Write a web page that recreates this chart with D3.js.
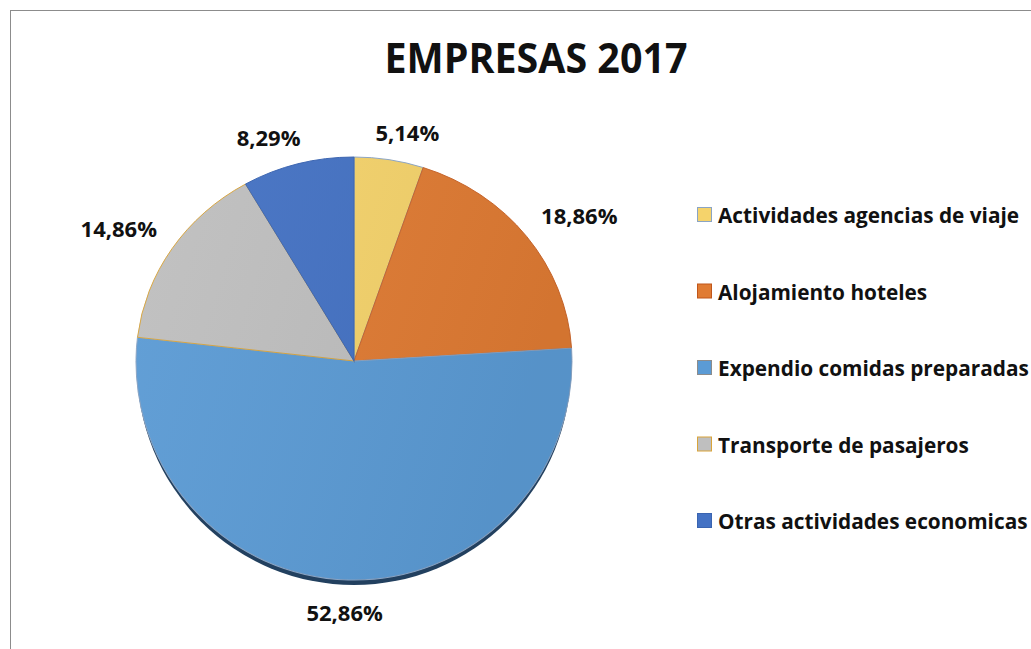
<!DOCTYPE html>
<html>
<head>
<meta charset="utf-8">
<script src="https://cdn.jsdelivr.net/npm/d3@7"></script>
<style>
  body { margin: 0; background: #fff; }
  text { font-family: "Open Sans", sans-serif; font-weight: bold; fill: #111; }
</style>
</head>
<body>
<script>
var categories = ["Actividades agencias de viaje", "Alojamiento hoteles", "Expendio comidas preparadas",
                  "Transporte de pasajeros", "Otras actividades economicas"];
var values = [5.14, 18.86, 52.86, 14.86, 8.29];
var labels = ["5,14%", "18,86%", "52,86%", "14,86%", "8,29%"];
var colors = ["#F5D36B", "#E07B33", "#5B9BD5", "#BFBFBF", "#4472C4"];
var edges = ["#8aa4c4", "#c8652a", "#8aa4c4", "#d9a43a", "#3a64b0"];

var width = 1031, height = 649;
var cx = 354, cy = 361, r = 218;
var topScale = 204 / 218, botScale = 219 / 218;

var svg = d3.select("body").append("svg")
    .attr("width", width)
    .attr("height", height);

var defs = svg.append("defs");
defs.append("clipPath").attr("id", "topHalf")
  .append("rect").attr("x", -300).attr("y", -300).attr("width", 600).attr("height", 300);
defs.append("clipPath").attr("id", "botHalf")
  .append("rect").attr("x", -300).attr("y", 0).attr("width", 600).attr("height", 300);
var grad = defs.append("linearGradient").attr("id", "shade")
    .attr("x1", "0%").attr("y1", "0%").attr("x2", "100%").attr("y2", "30%");
grad.append("stop").attr("offset", "0%").attr("stop-color", "#fff").attr("stop-opacity", 0.05);
grad.append("stop").attr("offset", "100%").attr("stop-color", "#000").attr("stop-opacity", 0.06);

// chart area border
svg.append("rect")
    .attr("x", 10.5).attr("y", 10.5)
    .attr("width", width + 20).attr("height", height + 20)
    .attr("fill", "none").attr("stroke", "#8c8c8c").attr("stroke-width", 1);

// title
svg.append("text")
    .attr("x", 536).attr("y", 73)
    .attr("text-anchor", "middle")
    .attr("font-size", 41)
    .attr("textLength", 303)
    .attr("lengthAdjust", "spacingAndGlyphs")
    .text("EMPRESAS 2017");

var pie = d3.pie().sort(null).value(function(d) { return d; });
var arcs = pie(values);
var arc = d3.arc().innerRadius(0).outerRadius(r);

// bottom shadow (3d edge)
svg.append("g")
    .attr("transform", "translate(" + cx + "," + (cy + 6) + ") scale(1," + botScale + ")")
    .attr("clip-path", "url(#botHalf)")
  .append("circle")
    .attr("r", r - 1)
    .attr("fill", "#22405f");

[["topHalf", topScale], ["botHalf", botScale]].forEach(function(h) {
  var g = svg.append("g")
      .attr("transform", "translate(" + cx + "," + cy + ") scale(1," + h[1] + ")")
    .append("g")
      .attr("clip-path", "url(#" + h[0] + ")");
  g.selectAll("path.slice")
    .data(arcs)
    .enter().append("path")
      .attr("class", "slice")
      .attr("d", arc)
      .attr("fill", function(d, i) { return colors[i]; })
      .attr("stroke", function(d, i) { return edges[i]; })
      .attr("stroke-width", 1);
  g.append("circle")
      .attr("r", r)
      .attr("fill", "url(#shade)");
});

// data labels
var labelR = 236;
var lab = svg.append("g");
arcs.forEach(function(d, i) {
  var a = (d.startAngle + d.endAngle) / 2;
  var s = Math.sin(a), c = Math.cos(a);
  var px = cx + labelR * s;
  var py = cy - labelR * c * (c > 0 ? topScale : botScale) + (c < 0 ? 5 : 0);
  var t = lab.append("text")
      .attr("font-size", 22)
      .attr("text-anchor", "middle")
      .text(labels[i]);
  var w = t.node().getComputedTextLength();
  var h = 20;
  var clamp = function(v) { return Math.max(-1, Math.min(1, v)); };
  var x = px + (w / 2) * clamp(s * 3);
  var y = py - (h / 2) * clamp(c * 3) + 8;
  t.attr("x", x).attr("y", y);
});

// legend
var legend = svg.append("g").attr("transform", "translate(697,0)");
var rowY = d3.scalePoint().domain(categories).range([215, 521]);
var item = legend.selectAll("g.item")
    .data(categories)
    .enter().append("g")
      .attr("class", "item")
      .attr("transform", function(d) { return "translate(0," + rowY(d) + ")"; });
item.append("rect")
    .attr("x", 0.5).attr("y", -7.5)
    .attr("width", 14).attr("height", 14)
    .attr("fill", function(d, i) { return colors[i]; })
    .attr("stroke", function(d, i) { return ["#8aa4c4", "#c0561a", "#8c8c8c", "#d9a43a", "#3a64b0"][i]; });
item.append("text")
    .attr("transform", "translate(21,8) scale(0.945,1)")
    .attr("font-size", 22)
    .text(function(d) { return d; });
</script>
</body>
</html>
